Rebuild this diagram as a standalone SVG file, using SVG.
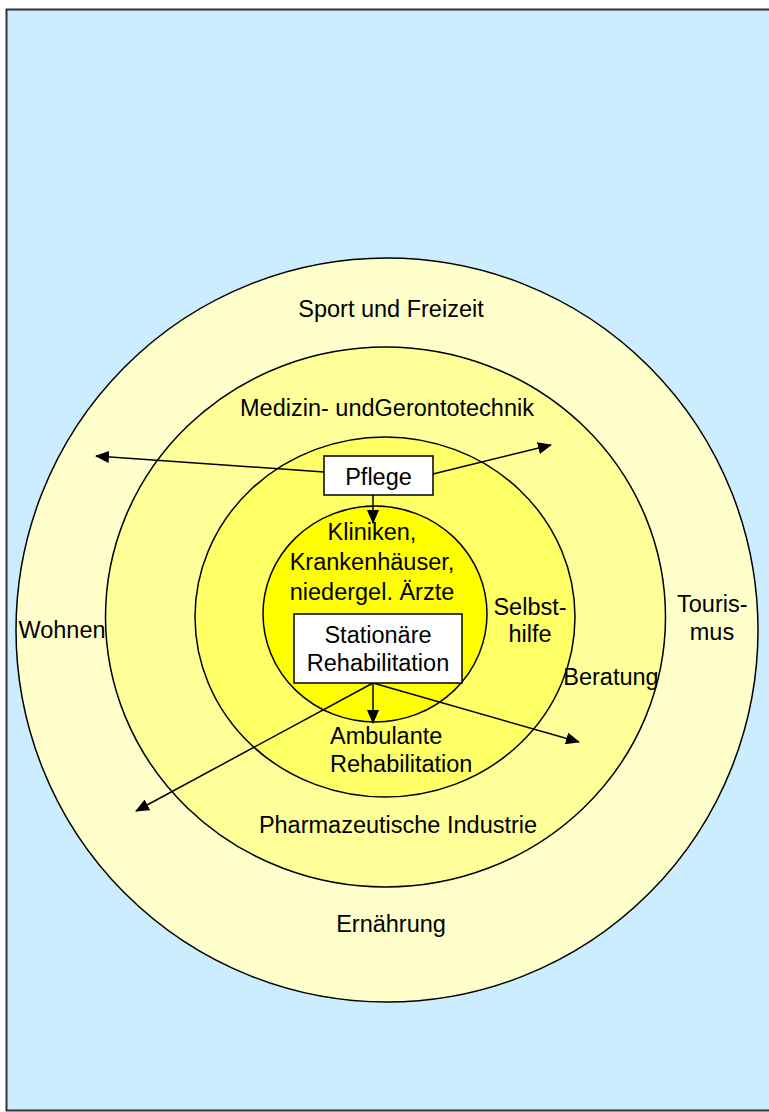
<svg xmlns="http://www.w3.org/2000/svg" width="769" height="1112" viewBox="0 0 769 1112">
<style>
text{font-family:"Liberation Sans",Arial,sans-serif;font-size:23.5px;fill:#000;text-anchor:middle}
.ring{stroke:#000;stroke-width:1.5}
.box{fill:#fff;stroke:#000;stroke-width:1.5}
.con{stroke:#000;stroke-width:1.5;fill:none;marker-end:url(#ah)}
</style>
<defs>
<marker id="ah" viewBox="0 0 14 12" refX="13" refY="6" markerWidth="14" markerHeight="12" markerUnits="userSpaceOnUse" orient="auto">
<path d="M0,0 L14,6 L0,12 z" fill="#000"/>
</marker>
</defs>
<rect x="6.5" y="9.5" width="770" height="1101" fill="#CCECFF" stroke="#333" stroke-width="2"/>
<g id="ring-outer"><ellipse class="ring" cx="387" cy="630" rx="371" ry="372" fill="#FFFFCC"/></g>
<g id="ring-2"><ellipse class="ring" cx="385.5" cy="617" rx="280" ry="270" fill="#FFFF99"/></g>
<g id="ring-3"><ellipse class="ring" cx="385" cy="617" rx="190" ry="180" fill="#FFFF66"/></g>
<g id="ring-inner"><ellipse class="ring" cx="375" cy="614" rx="112" ry="108" fill="#FFFF00"/></g>
<g id="connectors">
<line class="con" x1="324" y1="472" x2="96" y2="456"/>
<line class="con" x1="433" y1="474" x2="551" y2="445"/>
<line class="con" x1="373" y1="495" x2="373" y2="523"/>
<line class="con" x1="373" y1="683" x2="373" y2="723"/>
<line class="con" x1="373" y1="683" x2="136" y2="811"/>
<line class="con" x1="373" y1="683" x2="579" y2="742"/>
</g>
<g id="pflege"><rect class="box" x="324" y="456" width="109" height="39"/><text x="378.5" y="485">Pflege</text></g>
<g id="stationaer"><rect class="box" x="294" y="614" width="168" height="69"/><text x="378" y="643">Stationäre</text><text x="378" y="671">Rehabilitation</text></g>
<g id="sport"><text x="391" y="317">Sport und Freizeit</text></g>
<g id="medizin"><text x="387" y="416">Medizin- undGerontotechnik</text></g>
<g id="kliniken"><text x="372" y="540">Kliniken,</text><text x="372" y="570">Krankenhäuser,</text><text x="372" y="600">niedergel. Ärzte</text></g>
<g id="selbsthilfe"><text x="530" y="615">Selbst-</text><text x="530" y="642">hilfe</text></g>
<g id="tourismus"><text x="677" y="612" style="text-anchor:start">Touris-</text><text x="712" y="640">mus</text></g>
<g id="wohnen"><text x="62" y="638">Wohnen</text></g>
<g id="beratung"><text x="611" y="685">Beratung</text></g>
<g id="ambulant"><text x="330" y="744" style="text-anchor:start">Ambulante</text><text x="330" y="772" style="text-anchor:start">Rehabilitation</text></g>
<g id="pharma"><text x="398" y="833">Pharmazeutische Industrie</text></g>
<g id="ernaehrung"><text x="391" y="932">Ernährung</text></g>
</svg>
